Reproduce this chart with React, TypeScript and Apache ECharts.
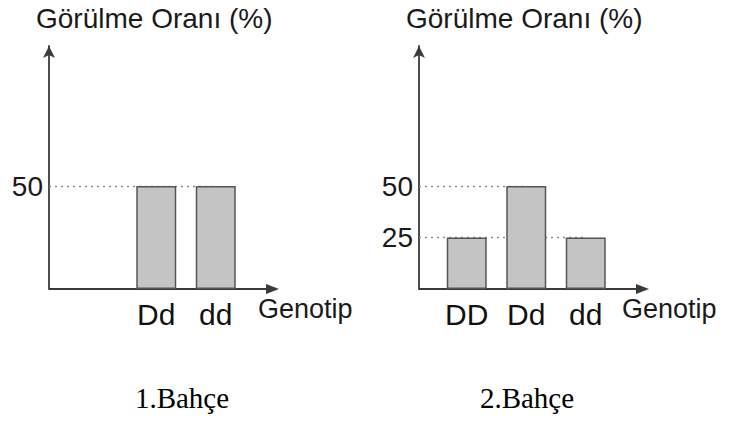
import React, { useEffect, useRef } from "react";
import * as echarts from "echarts";

// ---- data ----
const garden1Categories = ["", "Dd", "dd"];
const garden1Values = [null, 50, 50];
const garden1Ticks = [50];
const garden1Caption = "1.Bahçe";

const garden2Categories = ["DD", "Dd", "dd"];
const garden2Values = [25, 50, 25];
const garden2Ticks = [25, 50];
const garden2Caption = "2.Bahçe";

const yAxisTitle = "Görülme Oranı (%)";
const xAxisTitle = "Genotip";
const yMax = 118;

// ---- layout ----
const W = 729;
const H = 421;
const AXIS_Y = 289;
const GRID_TOP = 46;
const SANS = "'Liberation Sans', Arial, Helvetica, sans-serif";
const SERIF = "'Liberation Serif', 'Times New Roman', serif";

const panels = [
  {
    categories: garden1Categories,
    values: garden1Values,
    ticks: garden1Ticks,
    caption: garden1Caption,
    axisX: 49,
    titleX: 36,
    xTitleX: 258,
    captionX: 182,
  },
  {
    categories: garden2Categories,
    values: garden2Values,
    ticks: garden2Ticks,
    caption: garden2Caption,
    axisX: 419,
    titleX: 406,
    xTitleX: 622,
    captionX: 527,
  },
];

const AXIS_COLOR = "#3a3a3a";

function buildOption() {
  const grid: any[] = [];
  const xAxis: any[] = [];
  const yAxis: any[] = [];
  const series: any[] = [];
  const graphic: any[] = [];

  panels.forEach((p, i) => {
    const gridLeft = p.axisX + 18;
    grid.push({
      left: gridLeft,
      width: 178.5,
      top: GRID_TOP,
      height: AXIS_Y - GRID_TOP,
      outerBoundsMode: "none",
      containLabel: false,
    });
    xAxis.push({
      type: "category",
      gridIndex: i,
      data: p.categories,
      axisLine: { show: false },
      axisTick: { show: false },
      splitLine: { show: false },
      axisLabel: {
        fontSize: 30,
        fontFamily: SANS,
        color: "#111",
        margin: 10,
        interval: 0,
      },
    });
    yAxis.push({
      type: "value",
      gridIndex: i,
      min: 0,
      max: yMax,
      offset: 18,
      axisLine: {
        show: true,
        symbol: ["none", "arrow"],
        symbolSize: [9, 12],
        lineStyle: { color: AXIS_COLOR, width: 1.8 },
      },
      axisTick: { show: false },
      splitLine: { show: false },
      axisLabel: {
        customValues: p.ticks,
        fontSize: 28,
        fontFamily: SANS,
        color: "#1a1a1a",
        margin: 6,
      },
    });
    series.push({
      type: "bar",
      xAxisIndex: i,
      yAxisIndex: i,
      data: p.values,
      barWidth: 40,
      z: 3,
      itemStyle: {
        color: "#c4c4c4",
        borderColor: "#555",
        borderWidth: 1.5,
      },
      markLine: {
        silent: true,
        symbol: "none",
        z: 1,
        label: { show: false },
        lineStyle: { type: [2, 4], color: "#8a8a8a", width: 1.3 },
        data: p.ticks.map((level) => {
          const last = p.values.lastIndexOf(level as any);
          return [
            { x: p.axisX, coord: [0, level] },
            { coord: [last, level] },
          ];
        }),
      },
    });

    // x axis line with arrow
    graphic.push({
      type: "line",
      shape: { x1: p.axisX, y1: AXIS_Y, x2: p.axisX + 218, y2: AXIS_Y },
      style: { stroke: AXIS_COLOR, lineWidth: 1.8 },
      silent: true,
    });
    graphic.push({
      type: "polygon",
      shape: {
        points: [
          [p.axisX + 217, AXIS_Y - 5],
          [p.axisX + 230, AXIS_Y],
          [p.axisX + 217, AXIS_Y + 5],
        ],
      },
      style: { fill: AXIS_COLOR },
      silent: true,
    });
    // y axis title
    graphic.push({
      type: "text",
      x: p.titleX,
      y: 18.5,
      style: {
        text: yAxisTitle,
        font: `28px ${SANS}`,
        fill: "#1a1a1a",
        align: "left",
        verticalAlign: "middle",
      },
    });
    // x axis title
    graphic.push({
      type: "text",
      x: p.xTitleX,
      y: 309,
      style: {
        text: xAxisTitle,
        font: `27px ${SANS}`,
        fill: "#1a1a1a",
        align: "left",
        verticalAlign: "middle",
      },
    });
    // caption
    graphic.push({
      type: "text",
      x: p.captionX,
      y: 398,
      style: {
        text: p.caption,
        font: `29px ${SERIF}`,
        fill: "#000",
        align: "center",
        verticalAlign: "middle",
      },
    });
  });

  return {
    animation: false,
    backgroundColor: "#ffffff",
    grid,
    xAxis,
    yAxis,
    series,
    graphic,
  };
}

export default function App() {
  const ref = useRef<HTMLDivElement>(null);
  useEffect(() => {
    if (!ref.current) return;
    const chart = echarts.init(ref.current, null, { renderer: "svg", width: W, height: H });
    chart.setOption(buildOption() as any);
    return () => chart.dispose();
  }, []);
  return (
    <div
      ref={ref}
      style={{ position: "absolute", left: 0, top: 0, width: W, height: H, background: "#fff" }}
    />
  );
}
